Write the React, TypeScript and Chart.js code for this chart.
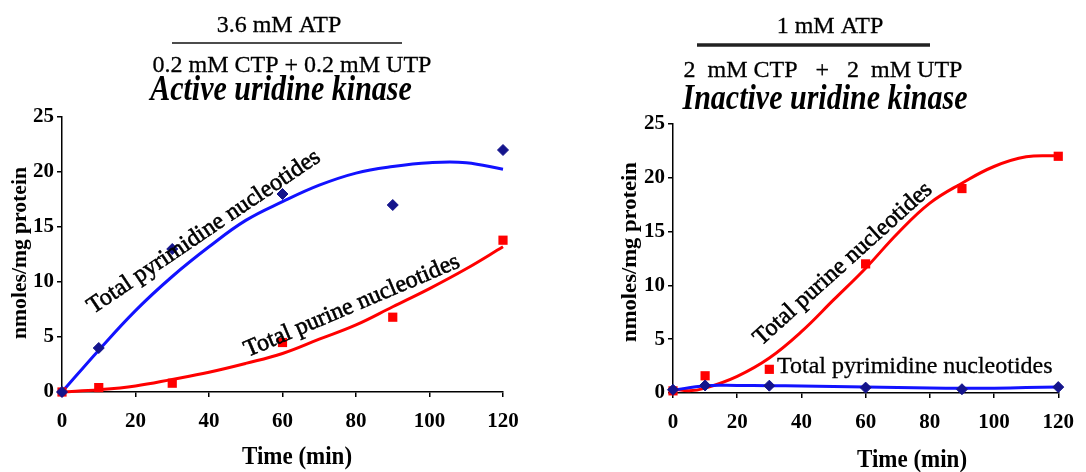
import React, { useEffect, useRef } from "react";
import { Chart, registerables } from "chart.js";

Chart.register(...registerables);

const FONT = '"Liberation Serif", "Times New Roman", Times, serif';

// ---- data ----
const markerTimes = [0, 10, 30, 60, 90, 120];
const trendTimes = [0, 10, 20, 30, 40, 50, 60, 70, 80, 90, 100, 110, 120];

// Active uridine kinase (3.6 mM ATP / 0.2 mM CTP + 0.2 mM UTP)
const activePyrimidine = [0, 4, 13, 18, 17, 22];
const activePurine = [0, 0.4, 0.8, 4.5, 6.8, 13.8];
const activePyrimidineTrend = [0, 3.8, 7.4, 10.5, 13.2, 15.6, 17.3, 18.8, 19.9, 20.5, 20.85, 20.85, 20.25];
const activePurineTrend = [0, 0.2, 0.55, 1.15, 1.8, 2.6, 3.5, 4.8, 6.1, 7.75, 9.4, 11.2, 13.2];

// Inactive uridine kinase (1 mM ATP / 2 mM CTP + 2 mM UTP)
const inactivePyrimidine = [0.3, 0.7, 0.68, 0.5, 0.35, 0.55];
const inactivePurine = [0.2, 1.6, 2.2, 12, 19, 22];
const inactivePyrimidineTrend = [0.25, 0.68, 0.7, 0.68, 0.65, 0.6, 0.55, 0.5, 0.46, 0.44, 0.45, 0.5, 0.55];
const inactivePurineTrendTimes = [0, 5, 10, 20, 30, 40, 50, 60, 70, 80, 90, 100, 110, 120];
const inactivePurineTrend = [0.4, 0.2, 0.45, 1.55, 3.25, 5.7, 8.65, 11.6, 14.85, 17.65, 19.5, 21.05, 21.95, 22.05];

const xMin = 0, xMax = 120, xStep = 20;
const yMin = 0, yMax = 25, yStep = 5;

const pairs = (xs: number[], ys: number[]) => xs.map((x, i) => ({ x, y: ys[i] }));

const BLUE_LINE = "#1212ff";
const BLUE_MARK = "#14148c";
const RED = "#ff0000";

type TextItem = {
  text: string; x: number; y: number; font: string;
  align?: CanvasTextAlign; baseline?: CanvasTextBaseline; angle?: number; sy?: number; stroke?: number;
};
type LineItem = { x1: number; x2: number; y: number; w: number; color: string };

const decorPlugin = {
  id: "decor",
  afterDatasetsDraw(chart: any, _args: any, opts: any) {
    const ctx: CanvasRenderingContext2D = chart.ctx;
    (opts.lines || []).forEach((l: LineItem) => {
      ctx.save();
      ctx.strokeStyle = l.color;
      ctx.lineWidth = l.w;
      ctx.beginPath();
      ctx.moveTo(l.x1, l.y);
      ctx.lineTo(l.x2, l.y);
      ctx.stroke();
      ctx.restore();
    });
    (opts.texts || []).forEach((t: TextItem) => {
      ctx.save();
      ctx.font = t.font;
      ctx.fillStyle = "#000";
      ctx.strokeStyle = "#000";
      ctx.textAlign = t.align || "center";
      ctx.textBaseline = t.baseline || "alphabetic";
      ctx.translate(t.x, t.y);
      if (t.sy) ctx.scale(1, t.sy);
      if (t.angle) ctx.rotate((t.angle * Math.PI) / 180);
      ctx.fillText(t.text, 0, 0);
      if (t.stroke) {
        ctx.lineWidth = t.stroke;
        ctx.strokeText(t.text, 0, 0);
      }
      ctx.restore();
    });
  },
};

function buildConfig(p: {
  pyr: number[]; pur: number[]; pyrTrend: number[]; purTrendX: number[]; purTrend: number[];
  padding: any; xH: number; yW: number; texts: TextItem[]; lines: LineItem[];
}) {
  const tickFont = { family: FONT, size: 21, weight: "bold" as const };
  return {
    type: "scatter" as const,
    data: {
      datasets: [
        { data: pairs(markerTimes, p.pyr), pointStyle: "rectRot", pointRadius: 5.5, backgroundColor: BLUE_MARK, borderColor: BLUE_MARK, borderWidth: 1, showLine: false, clip: false, order: 0 },
        { data: pairs(markerTimes, p.pur), pointStyle: "rect", pointRadius: 6.5, backgroundColor: RED, borderColor: RED, borderWidth: 0, showLine: false, clip: false, order: 1 },
        { data: pairs(trendTimes, p.pyrTrend), showLine: true, borderColor: BLUE_LINE, borderWidth: 3, pointRadius: 0, tension: 0.4, fill: false, clip: false, order: 2 },
        { data: pairs(p.purTrendX, p.purTrend), showLine: true, borderColor: RED, borderWidth: 3, pointRadius: 0, tension: 0.4, fill: false, clip: false, order: 3 },
      ],
    },
    options: {
      responsive: false,
      animation: false,
      devicePixelRatio: 1,
      layout: { padding: p.padding },
      plugins: {
        legend: { display: false },
        tooltip: { enabled: false },
        title: { display: false },
        decor: { texts: p.texts, lines: p.lines },
      },
      scales: {
        x: {
          type: "linear",
          min: xMin, max: xMax,
          afterFit: (s: any) => { s.height = p.xH; },
          ticks: { stepSize: xStep, font: tickFont, color: "#000", padding: 12, maxRotation: 0 },
          grid: { drawOnChartArea: false, color: "#000", tickLength: 5, lineWidth: 1.5 },
          border: { color: "#000", width: 1.5 },
        },
        y: {
          type: "linear",
          min: yMin, max: yMax,
          afterFit: (s: any) => { s.width = p.yW; },
          ticks: { stepSize: yStep, font: tickFont, color: "#000", padding: 3 },
          grid: { drawOnChartArea: false, color: "#000", tickLength: 5, lineWidth: 1.5 },
          border: { color: "#000", width: 1.5 },
        },
      },
    },
    plugins: [decorPlugin],
  };
}

const f = (size: number, style = "") => `${style} ${size}px ${FONT}`.trim();

function ChartCanvas({ cfg, left }: { cfg: any; left: number }) {
  const ref = useRef<HTMLCanvasElement>(null);
  useEffect(() => {
    if (!ref.current) return;
    const chart = new Chart(ref.current, cfg);
    return () => chart.destroy();
  }, []);
  return (
    <canvas
      ref={ref}
      width={543}
      height={472}
      style={{ position: "absolute", left, top: 0, width: 543, height: 472 }}
    />
  );
}

export default function App() {
  const leftCfg = buildConfig({
    pyr: activePyrimidine, pur: activePurine, pyrTrend: activePyrimidineTrend,
    purTrendX: trendTimes, purTrend: activePurineTrend,
    padding: { left: 0, top: 117, right: 40, bottom: 0 }, xH: 80, yW: 62,
    lines: [{ x1: 172, x2: 402, y: 43, w: 1.5, color: "#111" }],
    texts: [
      { text: "3.6 mM ATP", x: 279, y: 32, font: f(24), stroke: 0.3 },
      { text: "0.2 mM CTP + 0.2 mM UTP", x: 292, y: 72, font: f(24), stroke: 0.3 },
      { text: "Active uridine kinase", x: 281, y: 100, font: f(30, "italic bold"), sy: 1.18 },
      { text: "nmoles/mg protein", x: 21, y: 253, font: f(20, "bold"), angle: -90, baseline: "middle", sy: 1.08 },
      { text: "Time (min)", x: 297, y: 457, font: f(23, "bold"), baseline: "middle", sy: 1.12 },
      { text: "Total pyrimidine nucleotides", x: 204, y: 232, font: f(24), angle: -34, baseline: "middle", stroke: 0.6 },
      { text: "Total purine nucleotides", x: 352, y: 306, font: f(24), angle: -23, baseline: "middle", stroke: 0.6 },
    ],
  });
  const rightCfg = buildConfig({
    pyr: inactivePyrimidine, pur: inactivePurine, pyrTrend: inactivePyrimidineTrend,
    purTrendX: inactivePurineTrendTimes, purTrend: inactivePurineTrend,
    padding: { left: 68, top: 124, right: 25, bottom: 0 }, xH: 79, yW: 62,
    lines: [{ x1: 154, x2: 387, y: 45, w: 3.5, color: "#222" }],
    texts: [
      { text: "1 mM ATP", x: 287, y: 33, font: f(24), stroke: 0.3 },
      { text: "2  mM CTP   +   2  mM UTP", x: 280, y: 77, font: f(24), stroke: 0.3 },
      { text: "Inactive uridine kinase", x: 282, y: 109, font: f(30, "italic bold"), sy: 1.18 },
      { text: "nmoles/mg protein", x: 88, y: 252, font: f(20, "bold"), angle: -90, baseline: "middle", sy: 1.13 },
      { text: "Time (min)", x: 369, y: 460, font: f(23, "bold"), baseline: "middle", sy: 1.12 },
      { text: "Total purine nucleotides", x: 300, y: 264, font: f(24), angle: -42, baseline: "middle", stroke: 0.6 },
      { text: "Total pyrimidine nucleotides", x: 234, y: 373, font: f(24), align: "left", stroke: 0.3 },
    ],
  });
  return (
    <div style={{ position: "fixed", left: 0, top: 0, width: 1086, height: 472, background: "#fff", overflow: "hidden" }}>
      <ChartCanvas cfg={leftCfg} left={0} />
      <ChartCanvas cfg={rightCfg} left={543} />
    </div>
  );
}
